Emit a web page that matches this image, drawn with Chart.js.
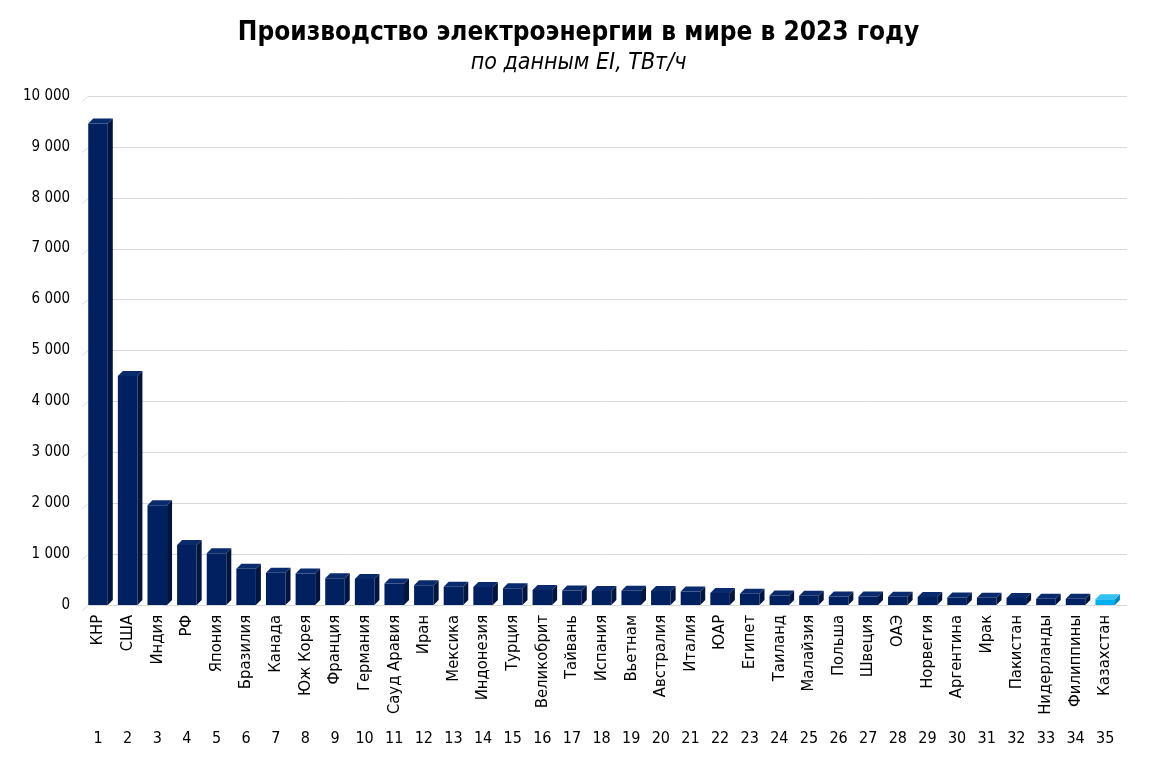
<!DOCTYPE html>
<html>
<head>
<meta charset="utf-8">
<script src="https://cdn.jsdelivr.net/npm/chart.js@4"></script>
<style>
  html, body { margin: 0; padding: 0; background: #fff; }
  #wrap { width: 1157px; height: 761px; }
</style>
</head>
<body>
<div id="wrap"><canvas id="chart"></canvas></div>
<script>
const countries = ['КНР', 'США', 'Индия', 'РФ', 'Япония', 'Бразилия', 'Канада', 'Юж Корея', 'Франция', 'Германия',
  'Сауд Аравия', 'Иран', 'Мексика', 'Индонезия', 'Турция', 'Великобрит', 'Тайвань', 'Испания', 'Вьетнам', 'Австралия',
  'Италия', 'ЮАР', 'Египет', 'Таиланд', 'Малайзия', 'Польша', 'Швеция', 'ОАЭ', 'Норвегия', 'Аргентина',
  'Ирак', 'Пакистан', 'Нидерланды', 'Филиппины', 'Казахстан'];
const ranks = countries.map((c, i) => String(i + 1));
const output = [9456, 4494, 1958, 1178, 1013, 710, 633, 618, 521, 508,
  419, 386, 357, 351, 327, 293, 283, 273, 278, 275,
  265, 231, 221, 186, 180, 164, 163, 159, 154, 146,
  138, 137, 121, 118, 113];
const yTicks = [0, 1000, 2000, 3000, 4000, 5000, 6000, 7000, 8000, 9000, 10000];
const highlight = 'Казахстан';

const navy = '#00205f';
const navySide = '#00153f';
const navyTop = '#0a2a6e';
const sky = '#00aeef';
const skySide = '#0088c0';
const skyTop = '#33c0f2';
const gridCol = '#d9d9d9';

const fam = '"DejaVu Sans Condensed", "DejaVu Sans", sans-serif';

// fake 3D: back-wall gridlines and side/top faces of the bars
const depth = { dx: 5, dy: 5 };
const bars3d = {
  id: 'bars3d',
  beforeDatasetsDraw(chart) {
    const { ctx, chartArea, scales } = chart;
    ctx.save();
    ctx.strokeStyle = gridCol;
    ctx.lineWidth = 1;
    yTicks.forEach(v => {
      const y = Math.round(scales.y.getPixelForValue(v)) + 0.5;
      ctx.beginPath();
      ctx.moveTo(chartArea.left - 1, y + 5);
      ctx.lineTo(chartArea.left + 5, y);
      ctx.lineTo(chartArea.right + 7, y);
      ctx.stroke();
    });
    ctx.restore();
  },
  afterDatasetsDraw(chart) {
    const { ctx } = chart;
    const meta = chart.getDatasetMeta(0);
    ctx.save();
    meta.data.forEach((bar, i) => {
      const { x, y, base, width } = bar.getProps(['x', 'y', 'base', 'width'], true);
      const l = x - width / 2, r = x + width / 2;
      const kz = countries[i] === highlight;
      ctx.fillStyle = kz ? skySide : navySide;
      ctx.beginPath();
      ctx.moveTo(r, y);
      ctx.lineTo(r + depth.dx, y - depth.dy);
      ctx.lineTo(r + depth.dx, base - depth.dy);
      ctx.lineTo(r, base);
      ctx.closePath();
      ctx.fill();
      ctx.fillStyle = kz ? skyTop : navyTop;
      ctx.beginPath();
      ctx.moveTo(l, y);
      ctx.lineTo(l + depth.dx, y - depth.dy);
      ctx.lineTo(r + depth.dx, y - depth.dy);
      ctx.lineTo(r, y);
      ctx.closePath();
      ctx.fill();
    });
    ctx.restore();
  }
};

new Chart(document.getElementById('chart'), {
  type: 'bar',
  data: {
    labels: countries,
    datasets: [{
      data: output,
      backgroundColor: countries.map(c => c === highlight ? sky : navy),
      borderWidth: 0,
      barPercentage: 0.66,
      categoryPercentage: 1
    }]
  },
  plugins: [bars3d],
  options: {
    responsive: true,
    maintainAspectRatio: false,
    animation: false,
    layout: { padding: { left: 10, right: 10, top: 12, bottom: 9 } },
    plugins: {
      legend: { display: false },
      tooltip: { enabled: false },
      title: {
        display: true,
        text: 'Производство электроэнергии в мире в 2023 году',
        color: '#000',
        font: { family: fam, size: 26, weight: 'bold' },
        padding: { top: 6, bottom: 0 }
      },
      subtitle: {
        display: true,
        text: 'по данным EI, ТВт/ч',
        color: '#000',
        font: { family: fam, size: 23, style: 'italic' },
        padding: { bottom: 19 }
      }
    },
    scales: {
      x: {
        weight: 0,
        grid: { display: false },
        border: { display: false },
        ticks: {
          color: '#000',
          font: { family: fam, size: 16.5 },
          minRotation: 90,
          maxRotation: 90,
          autoSkip: false,
          padding: 2
        }
      },
      x2: {
        type: 'category',
        labels: ranks,
        position: 'bottom',
        weight: 1,
        grid: { display: false },
        border: { display: false },
        ticks: {
          color: '#000',
          font: { family: fam, size: 16 },
          maxRotation: 0,
          autoSkip: false,
          padding: 4
        }
      },
      y: {
        min: 0,
        max: 10000,
        afterBuildTicks: axis => { axis.ticks = yTicks.map(v => ({ value: v })); },
        grid: { display: false, drawTicks: false },
        border: { display: false },
        ticks: {
          color: '#000',
          font: { family: fam, size: 15 },
          padding: 13,
          callback: v => String(v).replace(/\B(?=(\d{3})+(?!\d))/g, ' ')
        }
      },
      // empty right-hand box: keeps room for the 3D wall without moving the title
      yRight: {
        position: 'right',
        min: 0,
        max: 10000,
        grid: { display: false, drawTicks: false },
        border: { display: false },
        ticks: { display: false },
        afterFit: axis => { axis.width = 27; }
      }
    }
  }
});
</script>
</body>
</html>
